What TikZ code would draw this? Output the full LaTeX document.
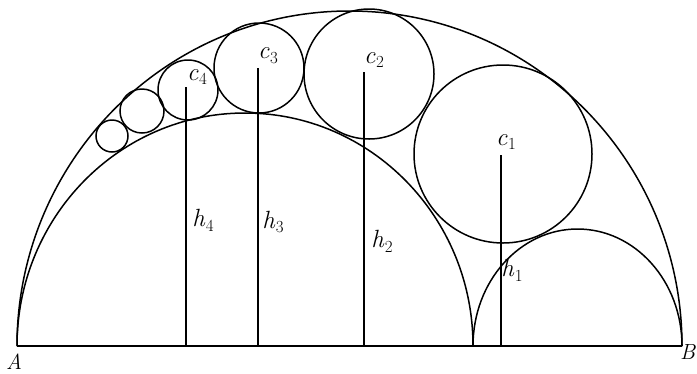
\documentclass[tikz,border=0pt]{standalone}
\usepackage{fontspec}
\setmainfont{Latin Modern Roman}
\newcommand{\lblsub}[2]{\textit{#1}\kern0.5pt\raisebox{-0.45ex}{\fontsize{17}{20}\selectfont #2}}
\begin{document}
\begin{tikzpicture}[x=1bp,y=-1bp,
  curve/.style={line width=1.5bp},
  hline/.style={line width=1.7bp},
  lab/.style={inner sep=0pt,font=\fontsize{25}{29}\selectfont},
  endlab/.style={inner sep=0pt,font=\fontsize{22}{26}\selectfont}]
\useasboundingbox (0,0) rectangle (697,373);
% base points
\coordinate (A) at (17,346);
\coordinate (C) at (473,346);
\coordinate (B) at (682,346);
% baseline
\draw[curve] (A) -- (B);
% outer semicircle
\draw[curve] (A) arc[start angle=180,end angle=360,x radius=332.5,y radius=335];
% left semicircle
\draw[curve] (A) arc[start angle=180,end angle=360,x radius=228,y radius=233];
% right semicircle
\draw[curve] (C) arc[start angle=180,end angle=360,x radius=104.5,y radius=117];
% chain circles
\coordinate (o1) at (503,154);
\coordinate (o2) at (369,74);
\coordinate (o3) at (259,68);
\coordinate (o4) at (188,90);
\coordinate (o5) at (142,111);
\coordinate (o6) at (112,136);
\draw[curve] (o1) circle[radius=89];
\draw[curve] (o2) circle[radius=65];
\draw[curve] (o3) circle[radius=45];
\draw[curve] (o4) circle[radius=30];
\draw[curve] (o5) circle[radius=22];
\draw[curve] (o6) circle[radius=16];
% height lines
\coordinate (t1) at (501,155); \coordinate (f1) at (501,346);
\coordinate (t2) at (364,72);  \coordinate (f2) at (364,346);
\coordinate (t3) at (258,68);  \coordinate (f3) at (258,346);
\coordinate (t4) at (186,87);  \coordinate (f4) at (186,346);
\draw[hline] (t1) -- (f1);
\draw[hline] (t2) -- (f2);
\draw[hline] (t3) -- (f3);
\draw[hline] (t4) -- (f4);
% labels
\node[lab] (lc1) at (506,142) {\lblsub{c}{1}};
\node[lab] (lc2) at (374,60) {\lblsub{c}{2}};
\node[lab] (lc3) at (268,56) {\lblsub{c}{3}};
\node[lab] (lc4) at (197,77) {\lblsub{c}{4}};
\node[lab] (lh1) at (512,270) {\lblsub{h}{1}};
\node[lab] (lh2) at (382,241) {\lblsub{h}{2}};
\node[lab] (lh3) at (273,222) {\lblsub{h}{3}};
\node[lab] (lh4) at (203,220) {\lblsub{h}{4}};
\node[endlab,anchor=west] (lA) at (6,362) {\textit{A}};
\node[endlab,anchor=east] (lB) at (696,352) {\textit{B}};
\end{tikzpicture}
\end{document}
